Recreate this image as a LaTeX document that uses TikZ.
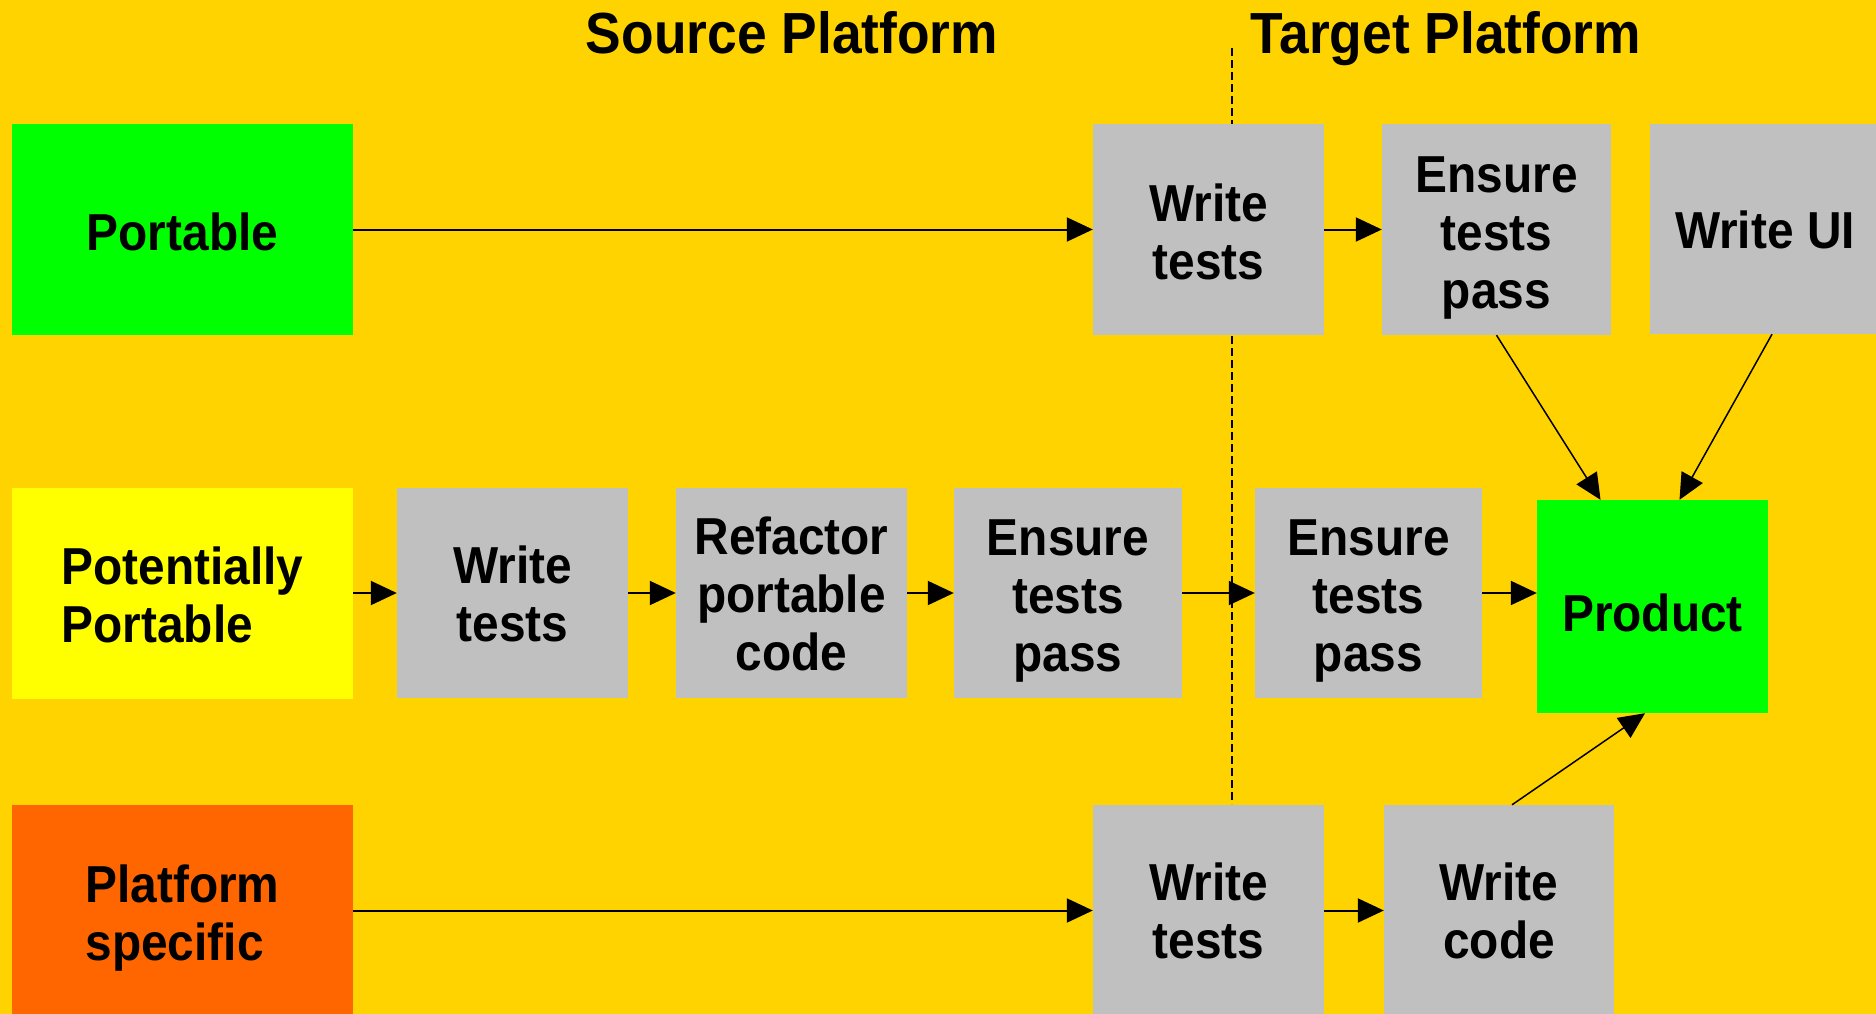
\documentclass[tikz,border=0pt]{standalone}
\usepackage{fontspec}
\setmainfont{Liberation Sans}[FakeStretch=0.92]
\usetikzlibrary{arrows.meta,calc}
\definecolor{bgyellow}{HTML}{FFD300}
\definecolor{boxgreen}{HTML}{00FF00}
\definecolor{boxyellow}{HTML}{FFFF00}
\definecolor{boxorange}{HTML}{FF6600}
\definecolor{boxgray}{HTML}{C0C0C0}
\tikzset{
  boxtext/.style={inner sep=0pt, align=center,
    font=\fontsize{52}{58}\selectfont\bfseries},
  base/.style={inner sep=0pt, minimum height=211pt},
  cat/.style={base, minimum width=341pt},
  stepbox/.style={base, fill=boxgray, minimum width=230pt},
  txt/.style 2 args={label={[boxtext, yshift=-#1pt]center:{#2}}},
  flow/.style={line width=2pt, -{Triangle[length=26pt,width=24pt]}},
  thinflow/.style={line width=1.5pt, -{Triangle[length=26pt,width=24pt]}},
  title/.style={anchor=base, inner sep=0pt, font=\fontsize{58}{64}\selectfont\bfseries},
}
\begin{document}
\begin{tikzpicture}[x=1pt,y=-1pt]
\fill[bgyellow] (0,0) rectangle (1876,1014);
\useasboundingbox (0,0) rectangle (1876,1014);
\begin{scope}
\clip (0,0) rectangle (1876,1014);
% titles
\node[title] (src) at (792,54) {Source Platform};
\node[title] (tgt) at (1446,54) {Target Platform};
% dashed divider (behind boxes)
\coordinate (dtop) at (1232,48);
\coordinate (dbot) at (1232,804);
\draw[line width=1.5pt, dash pattern=on 8pt off 4pt] (dtop) -- (dbot);
% category boxes
\node[cat, fill=boxgreen, txt={2}{Portable}] (port) at (182.5,229.5) {};
\node[cat, fill=boxyellow, txt={9}{\begin{tabular}{@{}l@{}}Potentially\\Portable\end{tabular}}] (pp) at (182.5,593) {};
\node[cat, fill=boxorange, txt={9}{\begin{tabular}{@{}l@{}}Platform\\specific\end{tabular}}] (ps) at (182.5,910.5) {};
% top row
\node[stepbox, minimum width=231pt, txt={2}{Write\\tests}] (wt1) at (1208.5,229.5) {};
\node[stepbox, minimum width=229pt, txt={9}{Ensure\\tests\\pass}] (et1) at (1496.5,229.5) {};
\node[stepbox, minimum height=210pt, txt={1}{Write UI}] (ui) at (1765,229) {};
% middle row
\node[stepbox, minimum width=231pt, minimum height=210pt, txt={1}{Write\\tests}] (wt2) at (512.5,593) {};
\node[stepbox, minimum width=231pt, minimum height=210pt, txt={1}{Refactor\\portable\\code}] (rf) at (791.5,593) {};
\node[stepbox, minimum width=228pt, minimum height=210pt, txt={8}{Ensure\\tests\\pass}] (e2) at (1068,593) {};
\node[stepbox, minimum width=227pt, minimum height=210pt, txt={8}{Ensure\\tests\\pass}] (e3) at (1368.5,593) {};
\node[stepbox, fill=boxgreen, minimum width=231pt, minimum height=213pt, txt={6}{Product}] (prod) at (1652.5,606.5) {};
% bottom row
\node[stepbox, minimum width=231pt, txt={0}{Write\\tests}] (wt3) at (1208.5,910.5) {};
\node[stepbox, txt={0}{Write\\code}] (wc) at (1499,910.5) {};
\end{scope}
% connectors
\draw[flow] (port.east) -- (wt1.west);
\draw[flow] (wt1.east) -- (et1.west);
\draw[flow] (pp.east) -- (wt2.west);
\draw[flow] (wt2.east) -- (rf.west);
\draw[flow] (rf.east) -- (e2.west);
\draw[flow] (e2.east) -- (e3.west);
\draw[flow] (e3.east) -- (e3.east -| prod.west);
\draw[flow] (ps.east) -- (wt3.west);
\draw[flow] (wt3.east) -- (wc.west);
\draw[thinflow] (et1.south) -- ($(prod.north)+(-52,0)$);
\draw[thinflow] ($(ui.south)+(7,0)$) -- ($(prod.north)+(27,0)$);
\draw[thinflow] ($(wc.north)+(13,0)$) -- ($(prod.south)+(-7.5,0)$);
\end{tikzpicture}
\end{document}
